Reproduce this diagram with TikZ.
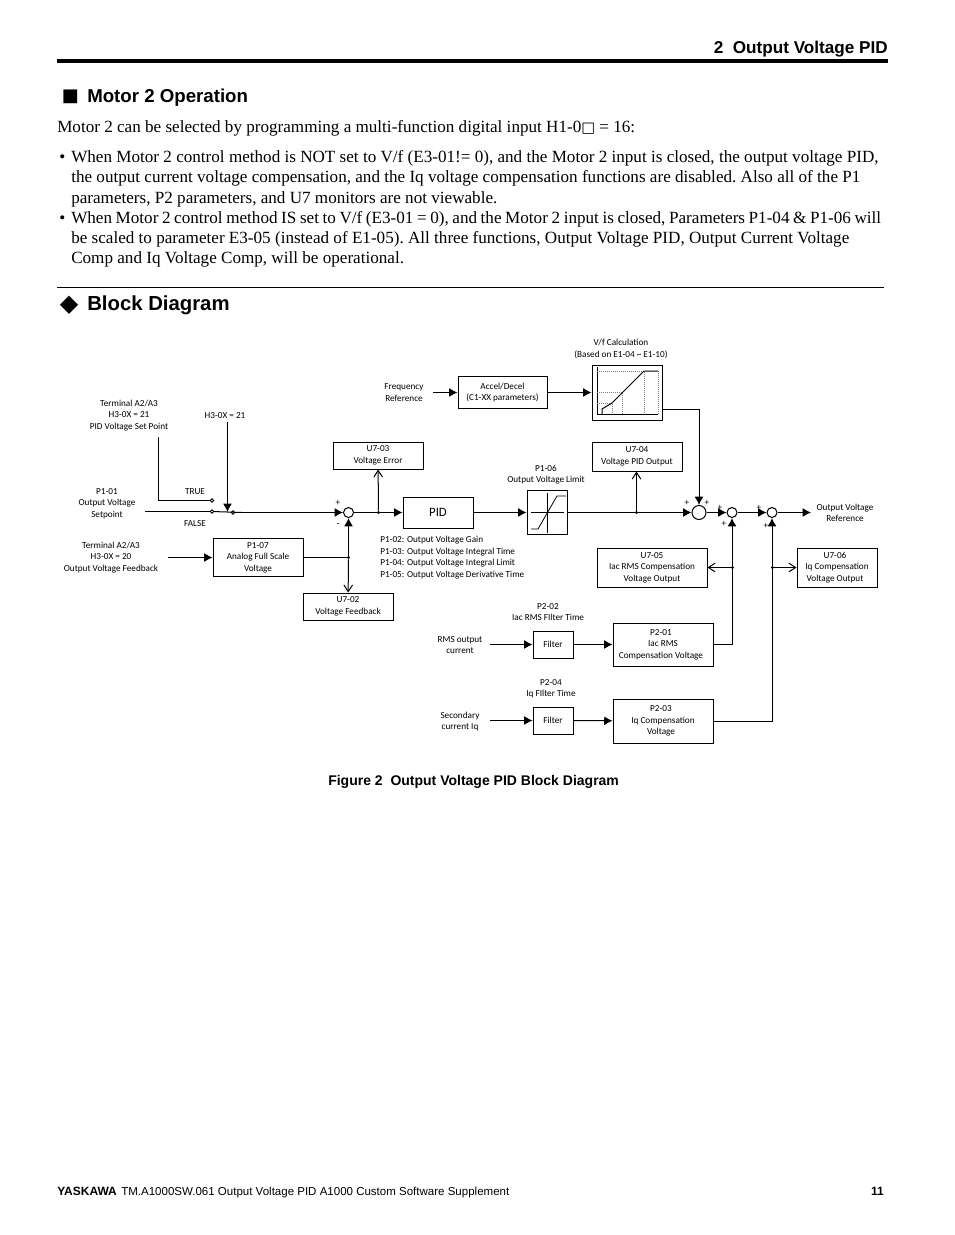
\documentclass[tikz,border=0pt]{standalone}
\usepackage{fontspec}
\setmainfont{Liberation Serif}
\newfontfamily\headfont{Liberation Sans}
\newfontfamily\diagfont{Carlito}
\newfontfamily\symfont{DejaVu Sans}
\usetikzlibrary{arrows.meta}

\tikzset{
	main/.style = {draw, line width=0.75pt, inner sep=0pt, align=center, font=\diagfont\fontsize{6.9}{8.6}\selectfont},
	box/.style 2 args = {main, minimum width=#1*0.75pt, minimum height=#2*0.75pt},
	txt/.style = {inner sep=0pt, align=center, yshift=-0.6pt, font=\diagfont\fontsize{6.9}{8.6}\selectfont},
	sum/.style = {draw, circle, line width=0.75pt, inner sep=0pt, minimum size=#1*0.75pt},
	junc/.style = {circle, fill, inner sep=0pt, minimum size=2.4pt},
	contact/.style = {circle, draw, fill=white, line width=0.6pt, inner sep=0pt, minimum size=2.6pt},
	edge/.style = {line width=0.75pt, -{Latex[length=6.2pt,width=6.6pt]}},
	open/.style = {line width=0.75pt, -{Straight Barb[length=5pt,width=6.5pt]}},
	wire/.style = {line width=0.75pt},
	bodyline/.style = {anchor=base west, inner sep=0pt, font=\frenchspacing\fontsize{12.83}{15}\selectfont},
	head/.style = {anchor=base west, inner sep=0pt, font=\headfont\bfseries\fontsize{#1}{#1}\selectfont},
}

\begin{document}
\begin{tikzpicture}[x=0.75pt, y=-0.75pt]
	\useasboundingbox (0,0) rectangle (954,1235);

	% page text
	\node[head=12.85, anchor=base east] (title) at (888,53) {2\ \ Output Voltage PID};
	\coordinate (r1a) at (57,61);
	\coordinate (r1b) at (888,61);
	\draw[line width=2.3pt] (r1a) -- (r1b);
	\node[anchor=base west, inner sep=0pt, font=\symfont\fontsize{13.5}{13.5}\selectfont] (sq) at (61.5,101) {■};
	\node[head=14] (h1) at (87,102) {Motor 2 Operation};
	\node[bodyline] (p0) at (57,132) {Motor 2 can be selected by programming a multi-function digital input H1-0{\symfont\fontsize{11}{11}\selectfont □} = 16:};
	\node[bodyline] (b1) at (59,162) {•};
	\node[bodyline] (p1) at (71,162) {When Motor 2 control method is NOT set to V/f (E3-01!= 0), and the Motor 2 input is closed, the output voltage PID,};
	\node[bodyline] (p2) at (71,182) {the output current voltage compensation, and the Iq voltage compensation functions are disabled. Also all of the P1};
	\node[bodyline] (p3) at (71,203) {parameters, P2 parameters, and U7 monitors are not viewable.};
	\node[bodyline] (b2) at (59,223) {•};
	\node[bodyline] (p4) at (71,223) {\spaceskip=2.7pt When Motor 2 control method IS set to V/f (E3-01 = 0), and the Motor 2 input is closed, Parameters P1-04 \& P1-06 will};
	\node[bodyline] (p5) at (71,243) {be scaled to parameter E3-05 (instead of E1-05). All three functions, Output Voltage PID, Output Current Voltage};
	\node[bodyline] (p6) at (71,263) {Comp and Iq Voltage Comp, will be operational.};
	\coordinate (r2a) at (57,287.7);
	\coordinate (r2b) at (884,287.7);
	\draw[line width=0.6pt] (r2a) -- (r2b);
	\node[anchor=base west, inner sep=0pt, font=\symfont\fontsize{18}{18}\selectfont] (dia) at (59.5,311) {◆};
	\node[head=15.25] (h2) at (87,310) {Block Diagram};

	% boxes
	\node[box={90}{27}] (u703) at (378,455.5) {U7-03\\Voltage Error};
	\node[box={90}{38}] (p107) at (258,557.5) {P1-07\\Analog Full Scale\\Voltage};
	\node[box={90}{27}] (u702) at (348,606.5) {U7-02\\Voltage Feedback};
	\node[box={70}{31}, font=\diagfont\fontsize{9.6}{11}\selectfont] (pid) at (438,512.5) {PID};
	\node[box={40}{44}] (lim) at (547,512.5) {};
	\node[box={90}{29}] (u704) at (637,456.5) {U7-04\\Voltage PID Output};
	\node[box={70}{55}] (vf) at (627,392.5) {};
	\node[box={89}{32}] (acc) at (502.5,392.5) {Accel/Decel\\(C1-XX parameters)};
	\node[box={110}{39}] (u705) at (652,567.5) {U7-05\\Iac RMS Compensation\hspace*{3pt}\\Voltage Output};
	\node[box={80}{39}] (u706) at (837,567.5) {U7-06\hspace*{3pt}\\Iq Compensation\hspace*{3pt}\\Voltage Output\hspace*{3pt}};
	\node[box={40}{27}] (fil1) at (553,644.5) {Filter};
	\node[box={100}{43}] (p201) at (663,644.5) {P2-01\hspace*{3pt}\\Iac RMS\hspace*{3pt}\\Compensation Voltage\hspace*{3pt}};
	\node[box={40}{27}] (fil2) at (553,720.5) {Filter};
	\node[box={100}{44}] (p203) at (663,721) {P2-03\hspace*{3pt}\\Iq Compensation\hspace*{3pt}\\Voltage\hspace*{3pt}};

	% summing points
	\node[sum=10] (s1) at (348.5,512.5) {};
	\node[sum=14] (s2) at (699,512.5) {};
	\node[sum=10] (s3) at (732,512.5) {};
	\node[sum=10] (s4) at (772,512.5) {};

	% junctions
	\node[junc] (j1) at (378.5,512.5) {};
	\node[junc] (j2) at (636.5,512.5) {};
	\node[junc] (j3) at (348.5,557.5) {};
	\node[junc] (j4) at (732.5,567.5) {};
	\node[junc] (j5) at (772.5,567.5) {};

	% switch
	\node[contact] (ctrue) at (212,500.5) {};
	\node[contact] (cfalse) at (212,511.5) {};
	\node[contact] (cout) at (233,512.5) {};
	\coordinate (blade) at (242,512.5);
	\coordinate (arm) at (227.5,512);

	% labels
	\node[txt] (t1) at (129,414.5) {Terminal A2/A3\\H3-0X = 21\\PID Voltage Set Point};
	\node[txt] (t2) at (225,415) {H3-0X = 21};
	\node[txt] (t3) at (195,491) {TRUE};
	\node[txt] (t4) at (195,523) {FALSE};
	\node[txt] (t5) at (107,502.5) {P1-01\\Output Voltage\\Setpoint};
	\node[txt] (t6) at (111,556.5) {Terminal A2/A3\\H3-0X = 20\\Output Voltage Feedback};
	\node[txt] (t7) at (404,392) {Frequency\\Reference};
	\node[txt] (t8) at (621,348) {V/f Calculation\\(Based on E1-04 \textasciitilde\ E1-10)};
	\node[txt] (t9) at (546,474) {P1-06\\Output Voltage Limit};
	\node[txt, align=left, anchor=north west] (t10) at (380,535.5) {P1-02: Output Voltage Gain\\P1-03: Output Voltage Integral Time\\P1-04: Output Voltage Integral Limit\\P1-05: Output Voltage Derivative Time};
	\node[txt] (t11) at (845,512) {Output Voltage\\Reference};
	\node[txt] (t12) at (548,611) {P2-02\\Iac RMS FIlter Time};
	\node[txt] (t13) at (460,644) {RMS output\\current};
	\node[txt] (t14) at (551,688) {P2-04\\Iq FIlter Time};
	\node[txt] (t15) at (460,721) {Secondary\\current Iq};

	% signs
	\node[txt] (g1) at (338,502) {+};
	\node[txt] (g2) at (338,524) {-};
	\node[txt] (g3) at (687,502) {+};
	\node[txt] (g4) at (707,502) {+};
	\node[txt] (g5) at (720,507) {+};
	\node[txt] (g6) at (724,523) {+};
	\node[txt] (g7) at (759,507) {+};
	\node[txt] (g8) at (766,525) {+};

	% free ends
	\coordinate (a1) at (145,511.5);
	\coordinate (a2) at (158.5,437);
	\coordinate (a3) at (227.5,422);
	\coordinate (a4) at (168,557.5);
	\coordinate (a5) at (433,392.5);
	\coordinate (a6) at (490,644.5);
	\coordinate (a7) at (490,720.5);
	\coordinate (a8) at (811,512.5);
	\coordinate (vfout) at (662,409.5);

	% connectors
	\path[edge]
	(blade) edge (s1)
	(a3) edge (arm)
	(a4) edge (p107)
	(j3) edge (s1)
	(s1) edge (pid)
	(pid) edge (lim)
	(lim) edge (s2)
	(s2) edge (s3)
	(s3) edge (s4)
	(s4) edge (a8)
	(a5) edge (acc)
	(acc) edge (vf)
	(a6) edge (fil1)
	(fil1) edge (p201)
	(a7) edge (fil2)
	(fil2) edge (p203);

	\path[open]
	(j1) edge (u703)
	(j2) edge (u704.south -| j2)
	(j3) edge (u702)
	(j4) edge (u705)
	(j5) edge (u706);

	\draw[edge] (vfout) -| (s2);
	\draw[edge] (p201) -| (s3);
	\draw[edge] (p203) -| (s4);
	\draw[wire] (a1) -- (cfalse);
	\draw[wire] (a2) |- (ctrue);
	\draw[wire] (cfalse) -- (blade);
	\draw[wire] (p107) -- (j3);

	% V/f graph
	\draw[line width=0.6pt] (597,367) |- (658,414);
	\draw[densely dotted, gray, line width=0.5pt] (597,371) -- (644,371) -- (644,414) (658,371) -- (658,414) (597,392) -- (622,392) -- (622,414) (597,403) -- (612,403) -- (612,414);
	\draw[line width=0.75pt] (602,414) -- (602,409) -- (612,403) -- (644,371) -- (658,371);

	% limit graph
	\draw[line width=0.6pt] (531,512.5) -- (564,512.5) (547,493) -- (547,533);
	\draw[line width=0.6pt] (531,529) -- (538,529) -- (557,496) -- (566,496);

	% caption and footer
	\node[head=10.5] (cap) at (328,785) {Figure 2\ \ Output Voltage PID Block Diagram};
	\node[head=9] (f1) at (57,1195) {YASKAWA};
	\node[anchor=base west, inner sep=0pt, font=\headfont\fontsize{8.64}{9}\selectfont] (f2) at (121,1195) {TM.A1000SW.061 Output Voltage PID A1000 Custom Software Supplement};
	\node[head=9, anchor=base east] (f3) at (884,1195) {11};

\end{tikzpicture}
\end{document}
